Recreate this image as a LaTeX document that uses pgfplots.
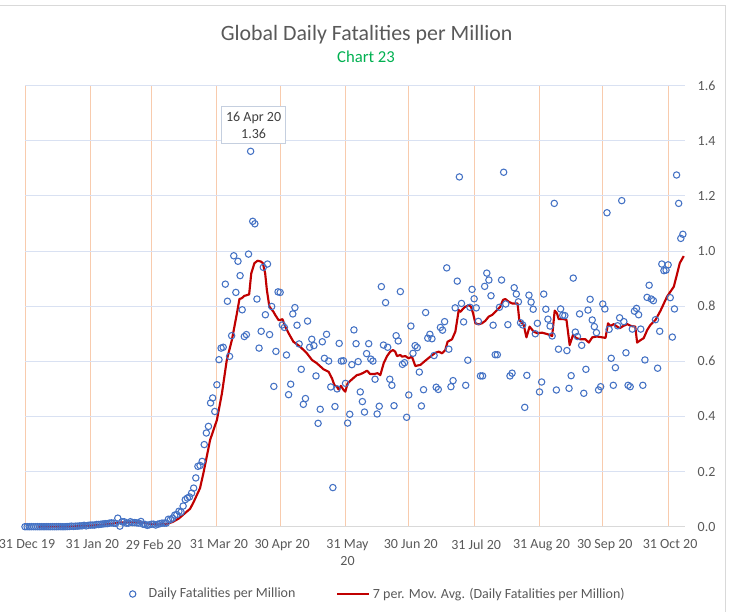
\documentclass[border=0pt]{standalone}
\usepackage{pgfplots}
\pgfplotsset{compat=1.18}
\usepackage{pgfplotstable}
\usepackage{fontspec}
\setmainfont{Carlito}
\definecolor{titlegray}{HTML}{595959}
\definecolor{tickgray}{HTML}{595959}
\definecolor{hgrid}{HTML}{D9E1F2}
\definecolor{vgrid}{HTML}{F8CBAD}
\definecolor{axisgray}{HTML}{D9D9D9}
\definecolor{markblue}{HTML}{4472C4}
\definecolor{avgred}{HTML}{C00000}
\definecolor{chartgreen}{HTML}{00B050}
\definecolor{annotborder}{HTML}{C5CFDF}
\definecolor{annottext}{HTML}{404040}
\pgfplotsset{
  redlegend/.style={legend image code/.code={\draw[##1] (0pt,0pt) -- (24pt,0pt);}},
  marklegend/.style={legend image code/.code={\node[inner sep=0pt, minimum width=10.5pt, minimum height=4pt] at (5.25pt,0pt) {};\draw[##1, only marks, mark repeat=2, mark phase=2] plot coordinates {(0pt,0pt) (6pt,0pt) (16pt,0pt)};}},
}

\pgfplotstableread{
d v
0 0
1 0
2 0
3 0
4 0
5 0
6 0
7 0
8 0
9 0
10 0
11 0.0001
12 0
13 0
14 0
15 0
16 0.0003
17 0
18 0
19 0
20 0.0004
21 0.0008
22 0.002
23 0.001
24 0.002
25 0.002
26 0.003
27 0.003
28 0.005
29 0.003
30 0.005
31 0.006
32 0.006
33 0.006
34 0.008
35 0.008
36 0.009
37 0.010
38 0.011
39 0.011
40 0.013
41 0.014
42 0.013
43 0.012
44 0.031
45 0.002
46 0.018
47 0.018
48 0.013
49 0.013
50 0.018
51 0.015
52 0.015
53 0.014
54 0.013
55 0.019
56 0.009
57 0.008
58 0.005
59 0.007
60 0.009
61 0.009
62 0.006
63 0.009
64 0.011
65 0.013
66 0.013
67 0.013
68 0.027
69 0.026
70 0.031
71 0.042
72 0.044
73 0.056
74 0.053
75 0.075
76 0.098
77 0.104
78 0.108
79 0.122
80 0.140
81 0.177
82 0.219
83 0.222
84 0.237
85 0.298
86 0.340
87 0.364
88 0.449
89 0.467
90 0.418
91 0.515
92 0.606
93 0.648
94 0.651
95 0.880
96 0.818
97 0.618
98 0.693
99 0.983
100 0.850
101 0.963
102 0.911
103 0.787
104 0.690
105 0.697
106 0.989
107 1.362
108 1.108
109 1.099
110 0.826
111 0.648
112 0.709
113 0.941
114 0.769
115 0.953
116 0.697
117 0.799
118 0.509
119 0.636
120 0.852
121 0.850
122 0.732
123 0.723
124 0.623
125 0.479
126 0.517
127 0.772
128 0.795
129 0.731
130 0.663
131 0.571
132 0.444
133 0.465
134 0.746
135 0.651
136 0.680
137 0.657
138 0.547
139 0.375
140 0.426
141 0.671
142 0.611
143 0.698
144 0.601
145 0.507
146 0.142
147 0.436
148 0.500
149 0.665
150 0.601
151 0.602
152 0.520
153 0.376
154 0.408
155 0.588
156 0.714
157 0.664
158 0.599
159 0.489
160 0.454
161 0.416
162 0.628
163 0.664
164 0.608
165 0.601
166 0.535
167 0.409
168 0.437
169 0.871
170 0.659
171 0.813
172 0.651
173 0.535
174 0.513
175 0.439
176 0.693
177 0.674
178 0.853
179 0.589
180 0.595
181 0.397
182 0.478
183 0.728
184 0.629
185 0.657
186 0.650
187 0.561
188 0.438
189 0.497
190 0.777
191 0.684
192 0.698
193 0.682
194 0.621
195 0.506
196 0.498
197 0.723
198 0.713
199 0.744
200 0.939
201 0.644
202 0.508
203 0.530
204 0.794
205 0.891
206 1.269
207 0.810
208 0.743
209 0.513
210 0.604
211 0.796
212 0.861
213 0.827
214 0.794
215 0.745
216 0.547
217 0.547
218 0.872
219 0.920
220 0.895
221 0.838
222 0.731
223 0.624
224 0.624
225 0.796
226 0.895
227 1.286
228 0.808
229 0.733
230 0.547
231 0.557
232 0.867
233 0.844
234 0.816
235 0.740
236 0.732
237 0.433
238 0.549
239 0.840
240 0.815
241 0.789
242 0.700
243 0.738
244 0.489
245 0.525
246 0.844
247 0.789
248 0.753
249 0.728
250 0.692
251 1.173
252 0.496
253 0.644
254 0.790
255 0.767
256 0.766
257 0.639
258 0.502
259 0.548
260 0.902
261 0.706
262 0.690
263 0.772
264 0.658
265 0.484
266 0.571
267 0.786
268 0.825
269 0.750
270 0.726
271 0.704
272 0.496
273 0.508
274 0.808
275 0.790
276 1.139
277 0.716
278 0.611
279 0.513
280 0.577
281 0.729
282 0.758
283 1.183
284 0.744
285 0.631
286 0.513
287 0.508
288 0.717
289 0.782
290 0.792
291 0.769
292 0.717
293 0.513
294 0.605
295 0.832
296 0.876
297 0.826
298 0.820
299 0.751
300 0.575
301 0.709
302 0.953
303 0.929
304 0.931
305 0.950
306 0.831
307 0.688
308 0.790
309 1.276
310 1.173
311 1.046
312 1.061
}\daily

\pgfplotstableread{
d v
6 0
15 0.0005
22 0.001
29 0.003
35 0.006
40 0.010
45 0.015
50 0.016
55 0.015
60 0.010
63 0.008
67 0.010
70 0.017
73 0.030
76 0.050
78.3 0.065
80 0.090
83 0.140
84.6 0.194
87.8 0.315
91 0.387
93.4 0.484
95.7 0.605
98.1 0.677
100.5 0.774
101.7 0.826
102.8 0.829
103.9 0.837
106.3 0.843
107.3 0.919
108.8 0.956
110.3 0.965
111.9 0.962
112.8 0.956
113.9 0.919
114.7 0.859
115.9 0.798
117.8 0.780
118.7 0.768
120.2 0.750
121 0.750
122.1 0.753
123.4 0.726
125 0.702
127.3 0.671
130.5 0.653
133.7 0.629
136.1 0.605
138.4 0.593
141.6 0.571
144 0.562
145.6 0.538
146.7 0.514
147.9 0.508
148.7 0.498
149.8 0.511
151.1 0.496
151.9 0.490
153 0.520
155.1 0.535
157.4 0.550
159 0.553
160.6 0.559
162.2 0.566
163.7 0.554
165.6 0.554
167.2 0.557
168.5 0.550
170.1 0.593
171.7 0.619
173.2 0.635
174.5 0.641
175.6 0.635
176.4 0.619
178 0.623
178.8 0.617
180.4 0.619
181.9 0.611
183.5 0.617
185.1 0.583
187.5 0.587
189.8 0.602
192.2 0.617
194.6 0.631
196.2 0.635
197.8 0.629
199.3 0.641
200.4 0.671
202.5 0.680
204.1 0.708
205.7 0.786
206.5 0.780
208.4 0.796
210.4 0.804
211.5 0.798
212.5 0.774
213.6 0.738
215.1 0.734
216.7 0.738
218.3 0.747
219.9 0.762
221.5 0.768
223.1 0.780
224.2 0.789
225.4 0.798
226.7 0.823
227.8 0.826
229.4 0.816
231 0.810
233.6 0.810
234.4 0.750
236.5 0.732
237.8 0.687
239.3 0.726
241.2 0.708
242.9 0.702
245.2 0.704
247.6 0.699
250 0.692
251.2 0.784
252.3 0.774
253.1 0.753
255.5 0.753
256.8 0.750
258.3 0.659
259.9 0.696
261.5 0.684
263.4 0.680
265.8 0.680
267.4 0.668
269 0.687
271.3 0.690
275.3 0.685
276.5 0.738
277.7 0.728
279.2 0.735
280.8 0.726
282 0.720
283.7 0.728
285.6 0.735
287.5 0.728
289.4 0.726
290.3 0.668
291.9 0.677
293.4 0.684
295.1 0.714
296.6 0.732
299 0.750
301.4 0.784
304.5 0.835
307.7 0.871
309.3 0.919
310.5 0.956
312.4 0.982
}\movavg

\begin{document}
\begin{tikzpicture}
% outer chart frame (left/bottom parts fall outside the page)
\draw[axisgray, line width=0.75pt] (-10pt,-10pt) rectangle (544.3pt,454pt);
% titles
\node[font=\fontsize{16.4}{19}\selectfont, text=titlegray] at (275pt,432pt) {Global Daily Fatalities per Million};
\node[font=\fontsize{12.5}{15}\selectfont, text=chartgreen] at (274.5pt,415.5pt) {Chart 23};
\begin{axis}[
  at={(18.75pt,63.225pt)}, anchor=south west,
  scale only axis, width=495pt, height=330.75pt,
  xmin=0, xmax=313, ymin=0, ymax=1.6,
  axis x line*=bottom, axis y line*=right,
  x axis line style={draw=axisgray, line width=0.75pt, -},
  y axis line style={draw=none},
  xtick={0,31,60,91,121,152,182,213,244,274,305},
  xticklabels={31 Dec 19,31 Jan 20,29 Feb 20,31 Mar 20,30 Apr 20,{31 May\\20},30 Jun 20,31 Jul 20,31 Aug 20,30 Sep 20,31 Oct 20},
  ytick={0,0.2,0.4,0.6,0.8,1.0,1.2,1.4,1.6},
  major tick length=0pt,
  xmajorgrids, ymajorgrids,
  x grid style={draw=vgrid, line width=0.75pt},
  y grid style={draw=hgrid, line width=0.75pt},
  tick label style={font=\fontsize{10.5}{12.5}\selectfont, text=tickgray},
  xticklabel style={align=center, yshift=-6pt, xshift=1.5pt},
  yticklabel style={xshift=6pt, /pgf/number format/fixed, /pgf/number format/fixed zerofill, /pgf/number format/precision=1},
  /pgf/number format/assume math mode=true,
  legend style={at={(0.5355,-0.1526)}, anchor=center, draw=none, fill=none,
    legend columns=2, font=\fontsize{10.5}{12.5}\selectfont, text=tickgray,
    /tikz/every even column/.append style={column sep=28.5pt}},
  legend cell align=left,
  clip=false,
]
\addplot[only marks, mark=o, mark size=2.4pt, draw=markblue, mark options={line width=0.8pt, draw=markblue}, marklegend] table[x=d, y=v] {\daily};
\addlegendentry{Daily Fatalities per Million}
\addplot[avgred, line width=1.6pt, mark=none, line join=round, redlegend] table[x=d, y=v] {\movavg};
\addlegendentry{7 per. Mov. Avg. (Daily Fatalities per Million)}
\node[draw=annotborder, fill=white, line width=0.75pt, align=center,
  font=\fontsize{10.5}{13}\selectfont, text=annottext,
  minimum width=48pt, minimum height=28pt, inner sep=2pt] at (axis cs:108.4,1.457) {16 Apr 20\\1.36};
\end{axis}
\pgfresetboundingbox
\useasboundingbox (0pt,0pt) rectangle (548.25pt,458.25pt);
\end{tikzpicture}
\end{document}
